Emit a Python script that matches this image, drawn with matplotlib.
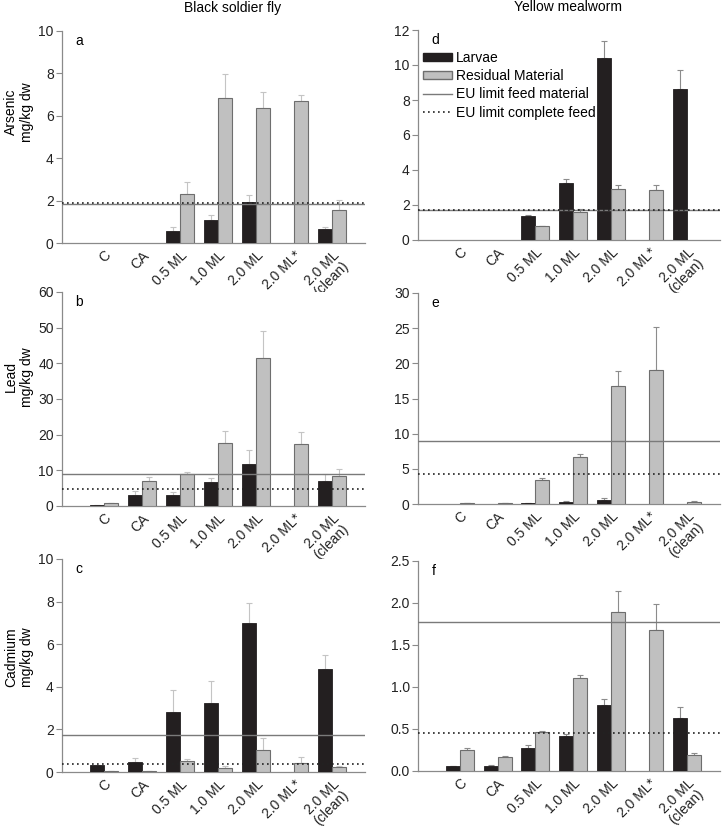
import numpy as np
import matplotlib
matplotlib.use('Agg')
import matplotlib.pyplot as plt
from matplotlib.patches import Patch
from matplotlib.lines import Line2D

plt.rcParams['font.family'] = ['Liberation Sans', 'DejaVu Sans']

nan = np.nan
groups = ['C', 'CA', '0.5 ML', '1.0 ML', '2.0 ML', '2.0 ML*', '2.0 ML\n(clean)']

# Arsenic, black soldier fly (a)
as_bsf_larvae = [nan, nan, 0.58, 1.08, 1.92, nan, 0.66]
as_bsf_larvae_sd = [nan, nan, 0.16, 0.25, 0.36, nan, 0.09]
as_bsf_resid = [nan, nan, 2.32, 6.83, 6.36, 6.72, 1.55]
as_bsf_resid_sd = [nan, nan, 0.55, 1.13, 0.75, 0.25, 0.48]

# Arsenic, yellow mealworm (d)
as_ymw_larvae = [nan, nan, 1.39, 3.28, 10.42, nan, 8.61]
as_ymw_larvae_sd = [nan, nan, 0.06, 0.22, 0.93, nan, 1.09]
as_ymw_resid = [nan, nan, 0.78, 1.60, 2.90, 2.86, nan]
as_ymw_resid_sd = [nan, nan, 0.04, 0.15, 0.24, 0.26, nan]

# Lead, black soldier fly (b)
pb_bsf_larvae = [0.37, 3.18, 3.08, 6.82, 11.87, nan, 6.9]
pb_bsf_larvae_sd = [0.0, 1.0, 0.9, 1.1, 3.9, nan, 2.0]
pb_bsf_resid = [0.75, 7.1, 8.88, 17.76, 41.6, 17.5, 8.4]
pb_bsf_resid_sd = [0.0, 1.0, 0.7, 3.3, 7.6, 3.3, 2.1]

# Lead, yellow mealworm (e)
pb_ymw_larvae = [nan, nan, 0.1, 0.24, 0.52, nan, nan]
pb_ymw_larvae_sd = [nan, nan, 0.0, 0.24, 0.29, nan, nan]
pb_ymw_resid = [0.14, 0.1, 3.42, 6.75, 16.74, 19.07, 0.29]
pb_ymw_resid_sd = [0.0, 0.0, 0.24, 0.34, 2.23, 6.03, 0.09]

# Cadmium, black soldier fly (c)
cd_bsf_larvae = [0.33, 0.47, 2.81, 3.23, 6.99, nan, 4.83]
cd_bsf_larvae_sd = [0.0, 0.17, 1.05, 1.03, 0.94, nan, 0.66]
cd_bsf_resid = [0.06, 0.06, 0.52, 0.20, 1.02, 0.41, 0.24]
cd_bsf_resid_sd = [0.0, 0.0, 0.09, 0.08, 0.56, 0.28, 0.06]

# Cadmium, yellow mealworm (f)
cd_ymw_larvae = [0.06, 0.063, 0.274, 0.417, 0.79, nan, 0.631]
cd_ymw_larvae_sd = [0.005, 0.005, 0.031, 0.027, 0.063, nan, 0.127]
cd_ymw_resid = [0.25, 0.167, 0.464, 1.107, 1.889, 1.675, 0.187]
cd_ymw_resid_sd = [0.02, 0.008, 0.012, 0.032, 0.258, 0.309, 0.027]

# EU limits (feed material, complete feed)
limits = {
    'a': (1.83, 1.89), 'd': (1.71, 1.73),
    'b': (8.97, 4.67), 'e': (8.94, 4.28),
    'c': (1.72, 0.39), 'f': (1.774, 0.456),
}

BLACK = '#231f20'
GREY = '#c0c0c0'
EDGE = '#6e6e6e'
AXC = '#8a8a8a'

fig = plt.figure(figsize=(7.27, 8.26), dpi=100)
W, H = 727.0, 826.0


def make_ax(x0, x1, ytop, ybot):
    return fig.add_axes([x0 / W, 1 - ybot / H, (x1 - x0) / W, (ybot - ytop) / H])


def panel(ax, larvae, lsd, resid, rsd, key, ymax, ystep, fmt=None, ecol='#9a9a9a'):
    x = np.arange(len(groups))
    w = 0.37
    larvae = np.array(larvae, float)
    resid = np.array(resid, float)
    lsd = np.array(lsd, float)
    rsd = np.array(rsd, float)
    ax.bar(x - w / 2, np.nan_to_num(larvae), w, color=BLACK,
           edgecolor=[BLACK if not np.isnan(v) else 'none' for v in larvae],
           linewidth=0.6, zorder=3)
    ax.bar(x + w / 2, np.nan_to_num(resid), w, color=GREY,
           edgecolor=[EDGE if not np.isnan(v) else 'none' for v in resid],
           linewidth=0.8, zorder=3)
    ml = ~np.isnan(larvae)
    ax.errorbar(x[ml] - w / 2, larvae[ml], yerr=[np.zeros(ml.sum()), lsd[ml]],
                fmt='none', ecolor=ecol, elinewidth=0.8, capsize=2, capthick=0.8, zorder=2)
    mr = ~np.isnan(resid)
    ax.errorbar(x[mr] + w / 2, resid[mr], yerr=[np.zeros(mr.sum()), rsd[mr]],
                fmt='none', ecolor=ecol, elinewidth=0.8, capsize=2, capthick=0.8, zorder=2)
    feed, complete = limits[key]
    ax.axhline(feed, color='#7a7a7a', lw=1.0, zorder=4)
    ax.axhline(complete, color='#222222', lw=1.2, ls=(0, (1, 2)), zorder=4)

    ax.set_xlim(-1.1, 6.87)
    ax.set_ylim(0, ymax)
    ticks = np.arange(0, ymax + ystep / 2, ystep)
    ax.set_yticks(ticks)
    if fmt:
        ax.set_yticklabels([fmt % v for v in ticks])
    ax.set_xticks(x)
    ax.set_xticklabels(groups, rotation=45, ha='right', rotation_mode='anchor',
                       multialignment='center', linespacing=1.0)
    ax.tick_params(axis='x', length=0, pad=4, labelsize=10, labelcolor='#222222')
    ax.tick_params(axis='y', length=4, width=0.8, color=AXC, labelsize=10,
                   labelcolor='#222222', pad=2)
    for s in ['top', 'right']:
        ax.spines[s].set_visible(False)
    for s in ['left', 'bottom']:
        ax.spines[s].set_color(AXC)
        ax.spines[s].set_linewidth(0.9)
    ax.text(0.045, 0.985, key, transform=ax.transAxes, va='top', ha='left', fontsize=10)


BSF_ERR = '#c4c4c4'
YMW_ERR = '#8c8c8c'

ax_a = make_ax(62, 365, 31, 243)
panel(ax_a, as_bsf_larvae, as_bsf_larvae_sd, as_bsf_resid, as_bsf_resid_sd, 'a', 10, 2,
      ecol=BSF_ERR)
ax_d = make_ax(418, 720, 30, 240)
panel(ax_d, as_ymw_larvae, as_ymw_larvae_sd, as_ymw_resid, as_ymw_resid_sd, 'd', 12, 2,
      ecol=YMW_ERR)

ax_b = make_ax(62, 365, 292, 506)
panel(ax_b, pb_bsf_larvae, pb_bsf_larvae_sd, pb_bsf_resid, pb_bsf_resid_sd, 'b', 60, 10,
      ecol=BSF_ERR)
ax_e = make_ax(418, 720, 293, 504)
panel(ax_e, pb_ymw_larvae, pb_ymw_larvae_sd, pb_ymw_resid, pb_ymw_resid_sd, 'e', 30, 5,
      ecol=YMW_ERR)

ax_c = make_ax(62, 365, 559, 772)
panel(ax_c, cd_bsf_larvae, cd_bsf_larvae_sd, cd_bsf_resid, cd_bsf_resid_sd, 'c', 10, 2,
      ecol=BSF_ERR)
ax_f = make_ax(418, 720, 561, 771)
panel(ax_f, cd_ymw_larvae, cd_ymw_larvae_sd, cd_ymw_resid, cd_ymw_resid_sd, 'f', 2.5, 0.5,
      fmt='%.1f', ecol=YMW_ERR)

# y labels of the left column
for lab, yc in [('Arsenic\nmg/kg dw', 112), ('Lead\nmg/kg dw', 377),
                ('Cadmium\nmg/kg dw', 657)]:
    fig.text(19 / W, 1 - yc / H, lab, rotation=90, ha='center', va='center',
             fontsize=10, linespacing=1.2, multialignment='center')

handles = [Patch(facecolor=BLACK, edgecolor=BLACK),
           Patch(facecolor=GREY, edgecolor=EDGE),
           Line2D([], [], color='#7a7a7a', lw=1.0),
           Line2D([], [], color='#222222', lw=1.2, ls=(0, (1, 2)))]
ax_d.legend(handles, ['Larvae', 'Residual Material', 'EU limit feed material',
                      'EU limit complete feed'],
            loc='upper left', bbox_to_anchor=(0.015, 0.90), frameon=False, fontsize=10,
            handlelength=2.1, handleheight=0.45, handletextpad=0.3, labelspacing=0.3,
            borderpad=0, borderaxespad=0)

fig.text(233 / W, 1 - 8 / H, 'Black soldier fly', ha='center', va='center', fontsize=10)
fig.text(568 / W, 1 - 7 / H, 'Yellow mealworm', ha='center', va='center', fontsize=10)

fig.savefig('out.png', dpi=100)
